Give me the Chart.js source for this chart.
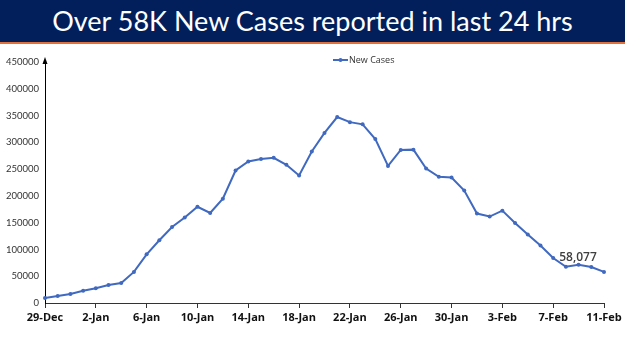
<!DOCTYPE html>
<html lang="en">
<head>
    <meta charset="UTF-8">
    <title>New Cases</title>
    <script src="https://cdn.jsdelivr.net/npm/chart.js"></script>
    <style>
        body {
            margin: 0;
            background: #ffffff;
            width: 625px;
            height: 351px;
            overflow: hidden;
        }
        .banner {
            height: 42px;
            background: #021f5c;
            border-bottom: 2px solid #e2703a;
            color: #ffffff;
            font-family: Lato, sans-serif;
            font-size: 27px;
            line-height: 42px;
            text-align: center;
        }
        .chart-box {
            position: relative;
            width: 625px;
            height: 307px;
        }
    </style>
</head>
<body>
    <div class="banner">Over 58K New Cases reported in last 24 hrs</div>
    <div class="chart-box">
        <canvas id="casesChart"></canvas>
    </div>

    <script>
        // daily new cases, 29-Dec to 11-Feb
        const dates = [
            '29-Dec', '30-Dec', '31-Dec',
            '1-Jan', '2-Jan', '3-Jan', '4-Jan', '5-Jan', '6-Jan', '7-Jan', '8-Jan', '9-Jan', '10-Jan',
            '11-Jan', '12-Jan', '13-Jan', '14-Jan', '15-Jan', '16-Jan', '17-Jan', '18-Jan', '19-Jan', '20-Jan',
            '21-Jan', '22-Jan', '23-Jan', '24-Jan', '25-Jan', '26-Jan', '27-Jan', '28-Jan', '29-Jan', '30-Jan',
            '31-Jan', '1-Feb', '2-Feb', '3-Feb', '4-Feb', '5-Feb', '6-Feb', '7-Feb', '8-Feb', '9-Feb',
            '10-Feb', '11-Feb'
        ];
        const newCases = [
            9195, 13154, 16764,
            22775, 27553, 33750, 37379, 58097, 90928, 117100, 141986, 159632, 179723,
            168063, 194720, 247417, 264202, 268833, 271202, 258089, 238018, 282970, 317532,
            347254, 337704, 333533, 306064, 255874, 285914, 286384, 251209, 235532, 234281,
            209918, 167059, 161386, 172433, 149394, 127952, 107474, 83876, 67597, 71365,
            67084, 58077
        ];
        const yTicks = [0, 50000, 100000, 150000, 200000, 250000, 300000, 350000, 400000, 450000];

        const lineColor = '#4069c0';
        const labelFont = 'Open Sans, sans-serif';

        // legend inside the plot, arrow on the y axis, label on the last point
        const extras = {
            id: 'extras',
            afterDraw(chart) {
                const ctx = chart.ctx;
                const area = chart.chartArea;
                const xs = chart.scales.x;
                const ys = chart.scales.y;
                ctx.save();

                // y axis arrow head
                ctx.fillStyle = '#000';
                ctx.beginPath();
                ctx.moveTo(area.left, area.top - 5);
                ctx.lineTo(area.left - 2.5, area.top + 2);
                ctx.lineTo(area.left + 2.5, area.top + 2);
                ctx.closePath();
                ctx.fill();

                // legend
                const lx = 333, ly = 16;
                ctx.strokeStyle = lineColor;
                ctx.lineWidth = 2;
                ctx.beginPath();
                ctx.moveTo(lx, ly);
                ctx.lineTo(lx + 15, ly);
                ctx.stroke();
                ctx.fillStyle = lineColor;
                ctx.beginPath();
                ctx.arc(lx + 7.5, ly, 2, 0, Math.PI * 2);
                ctx.fill();
                ctx.fillStyle = '#333';
                ctx.font = '9px ' + labelFont;
                ctx.textBaseline = 'middle';
                ctx.textAlign = 'left';
                ctx.fillText('New Cases', lx + 16, ly);

                // value label for last day
                const last = newCases.length - 1;
                const px = xs.getPixelForValue(last);
                const py = ys.getPixelForValue(newCases[last]);
                ctx.fillStyle = '#404040';
                ctx.font = '600 12px ' + labelFont;
                ctx.textAlign = 'center';
                ctx.textBaseline = 'middle';
                ctx.fillText(newCases[last].toLocaleString('en-US'), px - 26, py - 14);
                ctx.restore();
            }
        };

        new Chart(document.getElementById('casesChart'), {
            type: 'line',
            data: {
                labels: dates,
                datasets: [{
                    label: 'New Cases',
                    data: newCases,
                    borderColor: lineColor,
                    backgroundColor: lineColor,
                    borderWidth: 2,
                    pointRadius: 2,
                    pointBorderWidth: 0,
                    tension: 0
                }]
            },
            options: {
                responsive: true,
                maintainAspectRatio: false,
                animation: false,
                layout: {
                    padding: { left: 0, right: 21, top: 18, bottom: 0 }
                },
                plugins: {
                    legend: { display: false },
                    tooltip: { enabled: false }
                },
                scales: {
                    x: {
                        offset: false,
                        grid: {
                            display: true,
                            drawOnChartArea: false,
                            drawTicks: true,
                            tickLength: 5,
                            color: '#333'
                        },
                        border: { display: true, color: '#333', width: 1 },
                        ticks: {
                            autoSkip: false,
                            maxRotation: 0,
                            padding: 3,
                            color: '#111',
                            font: { family: labelFont, size: 11, weight: 'bold' },
                            callback: function(value, index) {
                                return index % 4 === 0 ? dates[index] : null;
                            }
                        },
                        afterFit(scale) { scale.height = 48; }
                    },
                    y: {
                        min: 0,
                        max: 450000,
                        afterBuildTicks(scale) {
                            scale.ticks = yTicks.map(v => ({ value: v }));
                        },
                        grid: { display: false, drawTicks: false },
                        border: { display: true, color: '#000', width: 1 },
                        ticks: {
                            padding: 6,
                            color: '#333',
                            font: { family: 'Lato', size: 9.5 },
                            callback: v => String(v)
                        },
                        afterFit(scale) { scale.width = 45; }
                    }
                }
            },
            plugins: [extras]
        });
    </script>
</body>
</html>
